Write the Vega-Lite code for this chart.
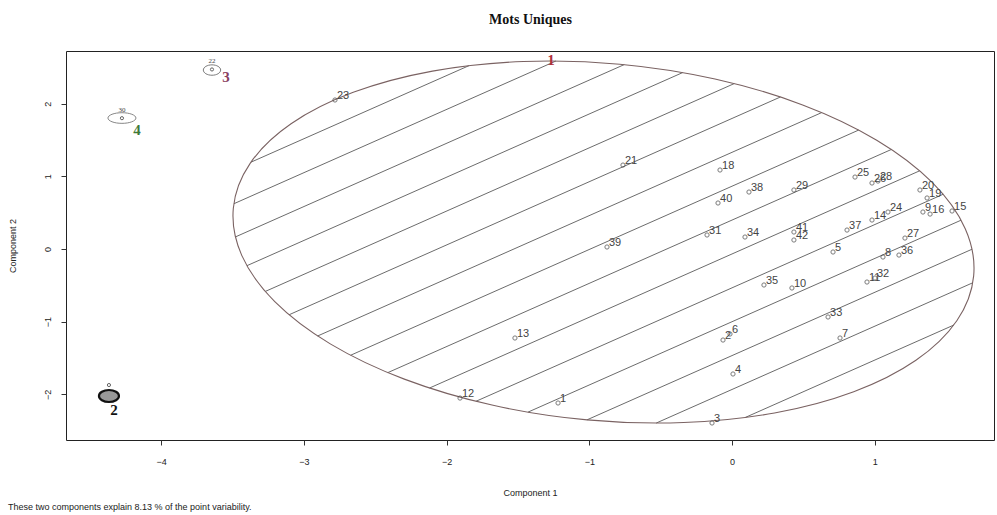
{
  "$schema": "https://vega.github.io/schema/vega-lite/v6.json",
  "width": 928,
  "height": 389,
  "autosize": {"type": "none"},
  "padding": {"left": 66, "top": 51, "right": 3, "bottom": 75},
  "background": "white",
  "config": {
    "view": {"stroke": "#222", "strokeWidth": 1},
    "axis": {"grid": false, "labelFont": "Liberation Sans", "titleFont": "Liberation Sans", "labelColor": "#222", "titleColor": "#222", "tickColor": "#333", "domainColor": "#333"}
  },
  "title": {"text": "These two components explain 8.13 % of the point variability.", "orient": "bottom", "anchor": "start", "frame": "bounds", "fontSize": 9, "fontWeight": "normal", "font": "Liberation Sans", "color": "#222", "offset": 6},
  "datasets": {
    "ellipse": [
      {"i": 0, "X": 1.6935, "Y": -0.3689},
      {"i": 1, "X": 1.5755, "Y": -0.9862},
      {"i": 2, "X": 1.2889, "Y": -1.5299},
      {"i": 3, "X": 0.8532, "Y": -1.9625},
      {"i": 4, "X": 0.2979, "Y": -2.255},
      {"i": 5, "X": -0.3392, "Y": -2.3872},
      {"i": 6, "X": -1.0144, "Y": -2.3502},
      {"i": 7, "X": -1.6818, "Y": -2.1464},
      {"i": 8, "X": -2.2961, "Y": -1.7898},
      {"i": 9, "X": -2.8152, "Y": -1.3047},
      {"i": 10, "X": -3.2039, "Y": -0.7241},
      {"i": 11, "X": -3.4355, "Y": -0.0876},
      {"i": 12, "X": -3.4945, "Y": 0.5615},
      {"i": 13, "X": -3.3765, "Y": 1.1788},
      {"i": 14, "X": -3.0899, "Y": 1.7225},
      {"i": 15, "X": -2.6542, "Y": 2.1551},
      {"i": 16, "X": -2.0989, "Y": 2.4476},
      {"i": 17, "X": -1.4618, "Y": 2.5798},
      {"i": 18, "X": -0.7866, "Y": 2.5428},
      {"i": 19, "X": -0.1192, "Y": 2.339},
      {"i": 20, "X": 0.4951, "Y": 1.9824},
      {"i": 21, "X": 1.0142, "Y": 1.4973},
      {"i": 22, "X": 1.4029, "Y": 0.9167},
      {"i": 23, "X": 1.6345, "Y": 0.2802}
    ],
    "hatch": [
      {"X": -3.3711, "Y": 1.1946, "X2": -1.843, "Y2": 2.5225},
      {"X": -3.4908, "Y": 0.623, "X2": -1.234, "Y2": 2.5864},
      {"X": -3.4797, "Y": 0.1667, "X2": -0.755, "Y2": 2.5371},
      {"X": -3.3992, "Y": -0.2293, "X2": -0.345, "Y2": 2.4278},
      {"X": -3.2711, "Y": -0.5839, "X2": 0.016, "Y2": 2.2759},
      {"X": -3.1039, "Y": -0.9044, "X2": 0.3394, "Y2": 2.0913},
      {"X": -2.904, "Y": -1.1965, "X2": 0.6291, "Y2": 1.8773},
      {"X": -2.6724, "Y": -1.461, "X2": 0.8884, "Y2": 1.6369},
      {"X": -2.4114, "Y": -1.6999, "X2": 1.1171, "Y2": 1.3699},
      {"X": -2.1195, "Y": -1.912, "X2": 1.3153, "Y2": 1.0763},
      {"X": -1.7943, "Y": -2.095, "X2": 1.4797, "Y2": 0.7533},
      {"X": -1.4298, "Y": -2.2439, "X2": 1.6054, "Y2": 0.3967},
      {"X": -1.0162, "Y": -2.3501, "X2": 1.682, "Y2": -0.0027},
      {"X": -0.5312, "Y": -2.3941, "X2": 1.6869, "Y2": -0.4644},
      {"X": 0.0916, "Y": -2.3183, "X2": 1.5537, "Y2": -1.0463}
    ],
    "pts": [
      {"label": "1", "X": -1.219, "Y": -2.118},
      {"label": "2", "X": -0.063, "Y": -1.252},
      {"label": "3", "X": -0.14, "Y": -2.393},
      {"label": "4", "X": 0.007, "Y": -1.719},
      {"label": "5", "X": 0.708, "Y": -0.041},
      {"label": "6", "X": -0.014, "Y": -1.169},
      {"label": "7", "X": 0.757, "Y": -1.224},
      {"label": "8", "X": 1.058, "Y": -0.11},
      {"label": "9", "X": 1.338, "Y": 0.509},
      {"label": "10", "X": 0.42, "Y": -0.536},
      {"label": "11", "X": 0.946, "Y": -0.454},
      {"label": "12", "X": -1.906, "Y": -2.05},
      {"label": "13", "X": -1.521, "Y": -1.224},
      {"label": "14", "X": 0.981, "Y": 0.399},
      {"label": "15", "X": 1.542, "Y": 0.523},
      {"label": "16", "X": 1.388, "Y": 0.481},
      {"label": "18", "X": -0.084, "Y": 1.087},
      {"label": "19", "X": 1.367, "Y": 0.702},
      {"label": "20", "X": 1.317, "Y": 0.812},
      {"label": "21", "X": -0.764, "Y": 1.155},
      {"label": "23", "X": -2.782, "Y": 2.05},
      {"label": "24", "X": 1.093, "Y": 0.509},
      {"label": "25", "X": 0.862, "Y": 0.99},
      {"label": "26", "X": 0.981, "Y": 0.908},
      {"label": "27", "X": 1.212, "Y": 0.151},
      {"label": "28", "X": 1.023, "Y": 0.935},
      {"label": "29", "X": 0.434, "Y": 0.812},
      {"label": "31", "X": -0.175, "Y": 0.193},
      {"label": "32", "X": 1.002, "Y": -0.399},
      {"label": "33", "X": 0.673, "Y": -0.935},
      {"label": "34", "X": 0.091, "Y": 0.165},
      {"label": "35", "X": 0.224, "Y": -0.495},
      {"label": "36", "X": 1.17, "Y": -0.083},
      {"label": "37", "X": 0.806, "Y": 0.261},
      {"label": "38", "X": 0.119, "Y": 0.784},
      {"label": "39", "X": -0.876, "Y": 0.028},
      {"label": "40", "X": -0.098, "Y": 0.633},
      {"label": "41", "X": 0.434, "Y": 0.234},
      {"label": "42", "X": 0.434, "Y": 0.124}
    ],
    "small": [
      {"cluster": "3", "X": -3.644, "Y": 2.462},
      {"cluster": "4", "X": -4.275, "Y": 1.802},
      {"cluster": "2", "X": -4.366, "Y": -2.022}
    ],
    "smallpts": [
      {"label": "22", "X": -3.644, "Y": 2.47},
      {"label": "30", "X": -4.275, "Y": 1.8},
      {"label": "", "X": -4.366, "Y": -1.871}
    ],
    "clabels": [
      {"cluster": "1", "X": -1.268, "Y": 2.6},
      {"cluster": "2", "X": -4.331, "Y": -2.215},
      {"cluster": "3", "X": -3.546, "Y": 2.366},
      {"cluster": "4", "X": -4.17, "Y": 1.637}
    ]
  },
  "resolve": {"axis": {"x": "independent", "y": "independent"}},
  "layer": [
    {
      "data": {"name": "hatch"},
      "mark": {"type": "rule", "color": "#5a5a5a", "strokeWidth": 0.9},
      "encoding": {
        "x": {"field": "X", "type": "quantitative", "scale": {"domain": [-4.667, 1.836], "nice": false, "zero": false},
          "axis": {"values": [-4, -3, -2, -1, 0, 1], "title": "Component 1", "titleFontSize": 9, "titleFontWeight": "normal", "labelFontSize": 9, "tickSize": 5, "labelPadding": 12, "titlePadding": 22, "domain": false}},
        "y": {"field": "Y", "type": "quantitative", "scale": {"domain": [-2.627, 2.724], "nice": false, "zero": false},
          "axis": {"values": [-2, -1, 0, 1, 2], "title": "Component 2", "titleFontSize": 9, "titleFontWeight": "normal", "labelFontSize": 9, "tickSize": 5, "labelAngle": -90, "labelAlign": "center", "labelBaseline": "bottom", "labelPadding": 9, "titlePadding": 26, "domain": false}},
        "x2": {"field": "X2"},
        "y2": {"field": "Y2"}
      }
    },
    {
      "data": {"name": "ellipse"},
      "mark": {"type": "line", "interpolate": "cardinal-closed", "color": "#7a6262", "strokeWidth": 1.1},
      "encoding": {
        "x": {"field": "X", "type": "quantitative",
          "axis": {"orient": "top", "title": "Mots Uniques", "titleFont": "Liberation Serif", "titleFontSize": 14, "titleFontWeight": "bold", "titleColor": "#111", "labels": false, "ticks": false, "domain": false, "titlePadding": 25}},
        "y": {"field": "Y", "type": "quantitative", "axis": null},
        "order": {"field": "i", "type": "quantitative"}
      }
    },
    {
      "data": {"name": "small"},
      "transform": [{"filter": "datum.cluster == '3'"}],
      "mark": {"type": "point", "shape": "M-1,0A1,0.6 0 1,1 1,0A1,0.6 0 1,1 -1,0Z", "size": 300, "filled": false, "color": "#444", "strokeWidth": 1},
      "encoding": {"x": {"field": "X", "type": "quantitative", "axis": null}, "y": {"field": "Y", "type": "quantitative", "axis": null}}
    },
    {
      "data": {"name": "small"},
      "transform": [{"filter": "datum.cluster == '4'"}],
      "mark": {"type": "point", "shape": "M-1,0A1,0.38 0 1,1 1,0A1,0.38 0 1,1 -1,0Z", "size": 784, "filled": false, "color": "#555", "strokeWidth": 1},
      "encoding": {"x": {"field": "X", "type": "quantitative", "axis": null}, "y": {"field": "Y", "type": "quantitative", "axis": null}}
    },
    {
      "data": {"name": "small"},
      "transform": [{"filter": "datum.cluster == '2'"}],
      "mark": {"type": "point", "shape": "M-1,0A1,0.6 0 1,1 1,0A1,0.6 0 1,1 -1,0Z", "size": 400, "filled": true, "fill": "#999", "stroke": "#111", "strokeWidth": 2.2, "opacity": 1},
      "encoding": {"x": {"field": "X", "type": "quantitative", "axis": null}, "y": {"field": "Y", "type": "quantitative", "axis": null}}
    },
    {
      "data": {"name": "smallpts"},
      "mark": {"type": "point", "shape": "circle", "size": 10, "filled": false, "color": "#222", "strokeWidth": 1},
      "encoding": {"x": {"field": "X", "type": "quantitative", "axis": null}, "y": {"field": "Y", "type": "quantitative", "axis": null}}
    },
    {
      "data": {"name": "smallpts"},
      "mark": {"type": "text", "font": "Liberation Serif", "fontSize": 7, "color": "#444", "dy": -8},
      "encoding": {"x": {"field": "X", "type": "quantitative", "axis": null}, "y": {"field": "Y", "type": "quantitative", "axis": null}, "text": {"field": "label"}}
    },
    {
      "data": {"name": "pts"},
      "mark": {"type": "point", "shape": "circle", "size": 18, "filled": false, "color": "#444", "strokeWidth": 1},
      "encoding": {"x": {"field": "X", "type": "quantitative", "axis": null}, "y": {"field": "Y", "type": "quantitative", "axis": null}}
    },
    {
      "data": {"name": "pts"},
      "mark": {"type": "text", "font": "Liberation Sans", "fontSize": 11, "color": "#444", "align": "left", "baseline": "alphabetic", "dx": 2, "dy": -1},
      "encoding": {"x": {"field": "X", "type": "quantitative", "axis": null}, "y": {"field": "Y", "type": "quantitative", "axis": null}, "text": {"field": "label"}}
    },
    {
      "data": {"name": "clabels"},
      "mark": {"type": "text", "font": "Liberation Serif", "fontSize": 15, "fontWeight": "bold", "align": "center", "baseline": "middle"},
      "encoding": {
        "x": {"field": "X", "type": "quantitative", "axis": null},
        "y": {"field": "Y", "type": "quantitative", "axis": null},
        "text": {"field": "cluster"},
        "color": {"field": "cluster", "type": "nominal", "legend": null, "scale": {"domain": ["1", "2", "3", "4"], "range": ["#b0303a", "#111111", "#8a4060", "#3f7a3a"]}}
      }
    }
  ]
}
